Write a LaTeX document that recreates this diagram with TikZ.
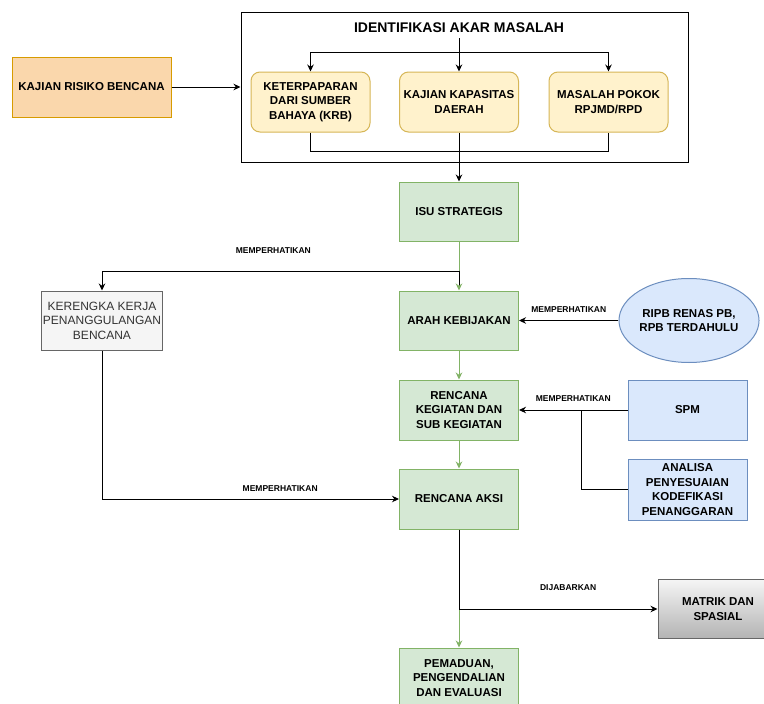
\documentclass[tikz,border=0pt]{standalone}
\usepackage{fontspec}
\setmainfont{Liberation Sans}
\usetikzlibrary{arrows.meta,shapes.geometric}
\definecolor{orF}{HTML}{FAD7AC}\definecolor{orD}{HTML}{D79B00}
\definecolor{yeF}{HTML}{FFF2CC}\definecolor{yeD}{HTML}{D6B656}
\definecolor{grF}{HTML}{D5E8D4}\definecolor{grD}{HTML}{82B366}
\definecolor{blF}{HTML}{DAE8FC}\definecolor{blD}{HTML}{6C8EBF}
\definecolor{gyF}{HTML}{F5F5F5}\definecolor{gyD}{HTML}{666666}
\definecolor{gyT}{HTML}{333333}\definecolor{gyB}{HTML}{B3B3B3}
\newcommand\boxfont{\fontsize{11.5}{14.5}\selectfont\bfseries}
\newcommand\lblfont{\fontsize{8.5}{10}\selectfont\bfseries}
\begin{document}
\begin{tikzpicture}[x=1pt,y=-1pt,
  box/.style={rectangle, draw, line width=1pt, align=center, inner sep=1pt, font=\boxfont},
  sz/.style 2 args={minimum width=#1, minimum height=#2},
  orbox/.style={box, fill=orF, draw=orD},
  yebox/.style={box, fill=yeF, draw=yeD, rounded corners=9pt},
  grbox/.style={box, fill=grF, draw=grD},
  blbox/.style={box, fill=blF, draw=blD},
  gybox/.style={box, fill=gyF, draw=gyD, text=gyT, font=\fontsize{12}{14.5}\selectfont},
  mtbox/.style={box, top color=gyF, bottom color=gyB, draw=gyD},
  lbl/.style={font=\lblfont, inner sep=0pt, text=black},
  ln/.style={draw=black, line width=1pt},
  gln/.style={draw=grD, line width=1pt},
  arr/.style={ln, -{Stealth[length=7pt,width=6.5pt]}},
  garr/.style={gln, -{Stealth[length=7pt,width=6.5pt]}}
]
\useasboundingbox (0,0) rectangle (764,704);
\fill[white] (0,0) rectangle (764,704);
\clip (0,0) rectangle (764,704);

% nodes
\node[orbox, sz={159}{60}] (kaj) at (91.5,87) {KAJIAN RISIKO BENCANA};
\node[draw=black, line width=1pt, minimum width=447, minimum height=150, inner sep=0pt] (iden) at (464.5,87) {};
\node[font=\fontsize{14}{16}\selectfont\bfseries, inner sep=5pt] (title) at (459,28) {IDENTIFIKASI AKAR MASALAH};
\node[yebox, sz={119}{60}] (b1) at (310.5,102) {KETERPAPARAN\\DARI SUMBER\\BAHAYA (KRB)};
\node[yebox, sz={119}{60}] (b2) at (459,102) {KAJIAN KAPASITAS\\DAERAH};
\node[yebox, sz={119}{60}] (b3) at (608.5,102) {MASALAH POKOK\\RPJMD/RPD};

\node[grbox, sz={119}{59}] (isu) at (459,211.5) {ISU STRATEGIS};
\node[grbox, sz={119}{59}] (arah) at (459,320.5) {ARAH KEBIJAKAN};
\node[grbox, sz={119}{60}] (rkg) at (459,410) {RENCANA\\KEGIATAN DAN\\SUB KEGIATAN};
\node[grbox, sz={119}{60}] (ra) at (459,499) {RENCANA AKSI};
\node[grbox, sz={119}{60}] (pem) at (459,678) {PEMADUAN,\\PENGENDALIAN\\DAN EVALUASI};

\node[gybox, sz={120}{59}] (ker) at (102,320.5) {KERENGKA KERJA\\PENANGGULANGAN\\BENCANA};
\node[blbox, ellipse, sz={120}{84}, inner sep=0pt] (rip) at (689,320.5) {RIPB RENAS PB,\\RPB TERDAHULU};
\node[blbox, sz={119}{60}] (spm) at (687.5,410) {SPM};
\node[blbox, sz={119}{61}] (ana) at (687.5,489.5) {ANALISA\\PENYESUAIAN\\KODEFIKASI\\PENANGGARAN};
\node[mtbox, sz={120}{59}] (mat) at (718,609) {MATRIK DAN\\SPASIAL};

% connectors
\draw[arr] (kaj.east) -- (iden.west);
\draw[arr] (title.south) -- (b2.north);
\coordinate (sp) at (459,52);
\draw[arr] (sp) -| (b1.north);
\draw[arr] (sp) -| (b3.north);
\draw[ln] (b1.south) -- ++(0,19) -| (b3.south);
\draw[arr] (b2.south) -- (isu.north);

\coordinate (j1) at (459,271);
\draw[gln] (isu.south) -- (j1);
\draw[ln, -{Stealth[length=7pt,width=6.5pt,color=grD]}] (j1) -- (arah.north);
\draw[arr] (j1) -| (ker.north) node[lbl, pos=0.26, above=17pt] {MEMPERHATIKAN};

\draw[arr] (rip.west) -- (arah.east) node[lbl, midway, above=8pt] {MEMPERHATIKAN};
\draw[garr] (arah.south) -- (rkg.north);
\draw[arr] (spm.west) -- (rkg.east) node[lbl, midway, above=8pt] {MEMPERHATIKAN};
\coordinate (j3) at (581,410);
\draw[ln] (ana.west) -| (j3);
\draw[garr] (rkg.south) -- (ra.north);
\draw[arr] (ker.south) |- (ra.west) node[lbl, pos=0.8, above=7pt] {MEMPERHATIKAN};

\coordinate (j2) at (459,609);
\draw[ln] (ra.south) -- (j2);
\draw[garr] (j2) -- (pem.north);
\draw[arr] (j2) -- (mat.west) node[lbl, pos=0.55, above=18pt] {DIJABARKAN};
\end{tikzpicture}
\end{document}
